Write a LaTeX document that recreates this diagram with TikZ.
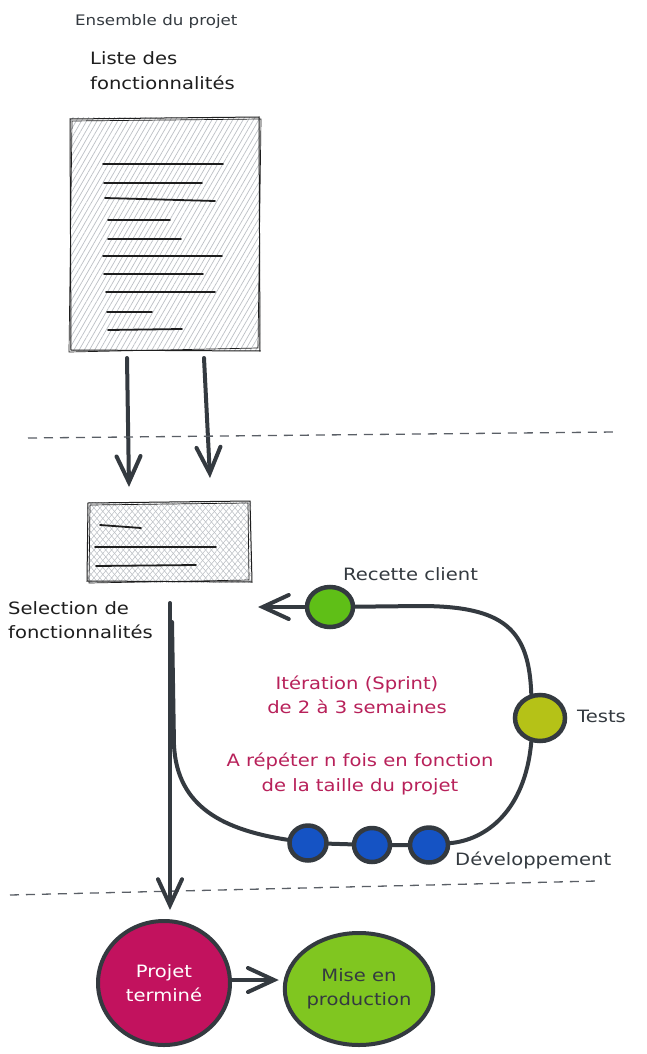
\documentclass[tikz,border=0pt]{standalone}
\usepackage{fontspec}
\setmainfont{DejaVu Sans}[FakeStretch=1.15]
\usetikzlibrary{arrows.meta,patterns.meta,backgrounds,shapes.geometric}
\definecolor{ink}{HTML}{343A40}
\definecolor{txtblack}{HTML}{1E1E1E}
\definecolor{crim}{HTML}{B8215A}
\definecolor{dashgray}{HTML}{5A5F66}
\definecolor{recgreen}{HTML}{5FBF17}
\definecolor{tstolive}{HTML}{B5C217}
\definecolor{devblue}{HTML}{1553C4}
\definecolor{ptmag}{HTML}{C2125E}
\definecolor{mplime}{HTML}{80C620}
\definecolor{hatch}{HTML}{BCC0C5}
\tikzset{
  lbl/.style={inner sep=0pt, anchor=west, align=left, font=\fontsize{17}{24.5}\selectfont},
  darklbl/.style={lbl, text=ink},
  blacklbl/.style={lbl, text=txtblack},
  redlbl/.style={inner sep=0pt, align=center, text=crim, font=\fontsize{17}{24.5}\selectfont},
  arr/.style={draw=ink, line width=4pt, line cap=round,
     -{Straight Barb[length=26pt,width=24pt,line cap=round]}},
  loopline/.style={draw=ink, line width=4pt, line cap=round, line join=round},
  dot/.style={ellipse, draw=ink, line width=4.5pt, inner sep=0pt},
  bigcirc/.style={ellipse, draw=ink, line width=4pt, align=center, inner sep=0pt,
     font=\fontsize{17}{24.5}\selectfont},
  sep/.style={draw=dashgray, line width=1.3pt, dash pattern=on 9pt off 7pt},
  docline/.style={draw=txtblack, line width=1.8pt, line cap=round},
  frame/.style={draw=txtblack, line width=1pt}
}
\begin{document}
\begin{tikzpicture}[x=1pt,y=-1pt]
\useasboundingbox (0,0) rectangle (647,1054);

% texts
\node[darklbl, font=\fontsize{14.5}{20}\selectfont] (ens) at (75,22) {Ensemble du projet};
\node[blacklbl] (liste) at (90,70.5) {Liste des\\fonctionnalités};

% big document
\fill[white] (70,118) rectangle (260,350);
\fill[pattern={Lines[angle=60,distance=4.5pt,line width=0.7pt]}, pattern color=hatch] (70,118) rectangle (260,350);
\node[inner sep=0pt, minimum width=190pt, minimum height=232pt] (doc) at (165,234) {};
\draw[frame] (70,119) -- (259,117) -- (260,351) -- (71,350) -- cycle;
\draw[frame, line width=0.7pt] (72,121) -- (261,119) -- (258,348) -- (69,352) -- cycle;
\draw[docline] (103,164) -- (223,164);
\draw[docline] (104,183) -- (202,183);
\draw[docline] (105,198) -- (215,201);
\draw[docline] (108,220) -- (170,220);
\draw[docline] (108,239) -- (181,239);
\draw[docline] (103,256) -- (222,256);
\draw[docline] (104,274) -- (203,274);
\draw[docline] (106,292) -- (215,292);
\draw[docline] (107,312) -- (152,312);
\draw[docline] (108,330) -- (182,329);

% arrows to selection
\coordinate (a1s) at (127,358);
\coordinate (a1e) at (129,487);
\coordinate (a2s) at (204,358);
\coordinate (a2e) at (210,478);
\draw[arr] (a1s) -- (a1e);
\draw[arr] (a2s) -- (a2e);

% separators
\coordinate (s1a) at (28,438);
\coordinate (s1b) at (615,432);
\draw[sep] (s1a) -- (s1b);
\coordinate (s2a) at (10,895);
\coordinate (s2b) at (597,881);
\draw[sep] (s2a) -- (s2b);

% small document
\fill[white] (87,502) rectangle (251,582);
\fill[pattern={Lines[angle=50,distance=4.5pt,line width=0.55pt]}, pattern color=hatch] (87,502) rectangle (251,582);
\fill[pattern={Lines[angle=-50,distance=4.5pt,line width=0.55pt]}, pattern color=hatch] (87,502) rectangle (251,582);
\node[inner sep=0pt, minimum width=164pt, minimum height=80pt] (sel) at (169,542) {};
\draw[frame] (88,503) -- (250,501) -- (252,582) -- (87,581) -- cycle;
\draw[frame, line width=0.7pt] (90,505) -- (248,503) -- (249,580) -- (89,583) -- cycle;
\draw[docline] (100,525) -- (141,528);
\draw[docline] (95,547) -- (216,547);
\draw[docline] (96,566) -- (196,565);

\node[blacklbl] (sellbl) at (8,620) {Selection de\\fonctionnalités};

% loop dots
\node[dot, fill=recgreen, minimum width=46pt, minimum height=40pt] (rec) at (330,607) {};
\node[dot, fill=tstolive, minimum width=50pt, minimum height=46pt] (tst) at (540,718) {};
\node[dot, fill=devblue, minimum width=37pt, minimum height=35pt] (d1) at (308,843) {};
\node[dot, fill=devblue, minimum width=36pt, minimum height=34pt] (d2) at (372,845) {};
\node[dot, fill=devblue, minimum width=38pt, minimum height=35pt] (d3) at (429,845) {};

\node[darklbl] (reclbl) at (343,574) {Recette client};
\node[darklbl] (tstlbl) at (577,716) {Tests};
\node[darklbl] (devlbl) at (455,860) {Développement};

\node[redlbl] (iter) at (357,695) {Itération (Sprint)\\de 2 à 3 semaines};
\node[redlbl] (rep) at (360,774) {A répéter n fois en fonction\\de la taille du projet};

% final circles
\node[bigcirc, fill=ptmag, text=white, minimum width=132pt, minimum height=124pt] (pt) at (164,983) {Projet\\terminé};
\node[bigcirc, fill=mplime, text=ink, minimum width=138pt, minimum height=112pt] (mp) at (359,989) {Mise en\\production};

\coordinate (loopstart) at (172,622);
\coordinate (vstart) at (170,603);
\coordinate (rectip) at (258,607);

\begin{scope}[on background layer]
\fill[white] (0,0) rectangle (647,1054);
\draw[loopline] (loopstart) -- (174,745) .. controls (177,808) and (225,830) .. (d1)
  -- (d2) -- (d3) .. controls (485,840) and (525,812) .. (tst.250);
\draw[loopline] (tst.110) .. controls (529,630) and (505,606) .. (420,606) -- (rec);
\end{scope}
\draw[arr] (rec.west) -- (rectip);
\draw[arr, shorten >=9pt] (vstart) -- (vstart |- pt.north);
\draw[arr, shorten >=4pt] ([yshift=3pt]pt.east) -- ([yshift=3pt]pt.east -| mp.west);
\end{tikzpicture}
\end{document}
